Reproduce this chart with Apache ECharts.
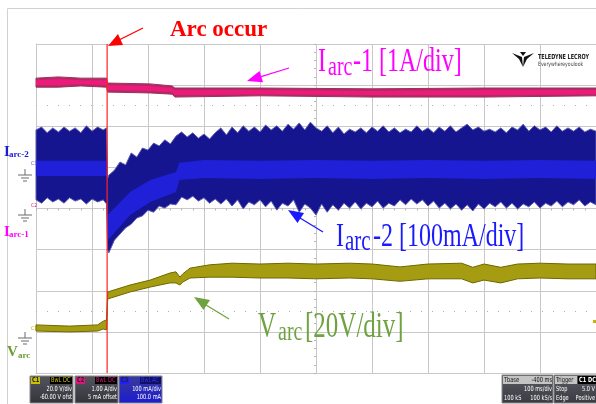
<!DOCTYPE html>
<html lang="en">
<head>
<meta charset="utf-8">
<title>Arc occur</title>
<script src="https://cdn.jsdelivr.net/npm/echarts@6/dist/echarts.min.js"></script>
<style>
  html, body { margin: 0; padding: 0; background: #fff; }
  #main { width: 596px; height: 404px; }
</style>
</head>
<body>
<div id="main"></div>
<script>
// x: time in ms (100 ms/div), y: screen divisions (0 = bottom of graticule, 8 = top)
var arcT = 127;

// Iarc-2 (blue, 100 mA/div) outer envelope
var blueT = [0,10,20,30,40,50,60,70,80,90,
  100,110,120,126,128,130,140,150,160,170,
  180,190,200,210,220,230,240,250,260,270,
  280,290,300,310,320,330,340,350,360,370,
  380,390,400,410,420,430,440,450,460,470,
  480,490,500,510,520,530,540,550,560,570,
  580,590,600,610,620,630,640,650,660,670,
  680,690,700,710,720,730,740,750,760,770,
  780,790,800,810,820,830,840,850,860,870,
  880,890,900,910,920,930,940,950,960,970,
  980,990,1000];
var blueTop = [5.91,5.98,5.84,5.96,5.86,5.98,5.88,5.96,5.84,6.01,
  5.88,5.98,5.91,5.96,4.74,4.81,4.93,5.13,5.06,5.35,
  5.25,5.47,5.42,5.59,5.52,5.67,5.57,5.76,5.86,5.74,
  5.84,5.71,5.81,5.69,5.84,5.96,5.79,5.98,5.84,6.01,
  5.88,5.98,5.86,6.03,5.91,6.01,5.88,6.05,5.93,6.08,
  5.91,6.10,5.96,5.88,6.01,5.84,5.98,5.81,5.93,5.86,
  5.96,5.84,5.98,5.88,6.01,5.86,5.96,5.84,5.93,5.86,
  6.01,5.88,5.96,5.84,5.98,5.88,6.01,5.86,5.96,6.05,
  5.91,5.98,5.88,5.93,5.86,5.96,5.84,5.98,5.91,6.05,
  5.88,6.01,5.91,5.98,5.86,6.01,5.88,5.96,5.88,5.98,
  5.86,5.93,5.88];
var blueBot = [4.21,4.13,4.26,4.16,4.23,4.13,4.26,4.18,4.23,4.11,
  4.23,4.16,4.21,4.11,2.99,2.92,3.23,3.38,3.53,3.62,
  3.77,3.82,3.96,3.91,4.06,4.01,4.11,4.09,4.28,4.21,
  4.30,4.18,4.26,4.13,4.23,4.11,4.23,4.06,4.21,3.99,
  4.16,4.09,4.21,4.04,4.18,3.96,4.13,4.06,4.21,3.91,
  4.11,4.01,3.84,4.11,3.91,4.09,3.96,4.13,4.01,4.16,
  3.99,4.13,4.04,4.18,4.01,4.13,4.06,4.21,4.09,4.23,
  4.11,4.21,4.06,4.18,4.01,4.13,3.99,4.11,3.96,4.09,
  3.94,4.11,3.99,4.13,4.04,4.16,4.01,4.13,3.99,4.11,
  4.04,4.16,4.01,4.13,4.06,4.18,4.04,4.16,4.09,4.21,
  4.06,4.16,4.09];

// Iarc-2 bright core
var coreT   = [0,126,128,168,204,250,256,300,400,500,600,700,800,900,1000];
var coreTop = [5.16,5.16,3.84,4.40,4.69,4.89,5.11,5.18,5.16,5.18,5.16,5.18,5.16,5.18,5.16];
var coreBot = [4.79,4.79,3.23,3.84,4.16,4.40,4.69,4.74,4.72,4.74,4.72,4.74,4.72,4.74,4.72];

// Iarc-1 (magenta, 1 A/div)
var pinkT     = [0,40,80,126,128,204,243,248,400,600,800,1000];
var pinkTop   = [7.17,7.20,7.17,7.17,7.05,7.03,6.98,6.93,6.93,6.91,6.93,6.93];
var pinkBot   = [6.95,6.95,6.98,6.95,6.83,6.81,6.78,6.71,6.74,6.71,6.71,6.74];
var pinkInTop = [7.12,7.15,7.12,7.12,7.00,6.98,6.93,6.88,6.88,6.86,6.88,6.88];
var pinkInBot = [7.00,7.00,7.03,7.00,6.88,6.86,6.83,6.76,6.78,6.76,6.76,6.78];

// Varc (olive, 20 V/div)
var oliveT   = [0,60,110,120,126,128,168,204,239,250,257,262,275,310,350,400,450,500,560,600,650,700,760,780,800,830,860,900,950,1000];
var oliveTop = [1.17,1.14,1.17,1.26,1.29,1.97,2.14,2.26,2.43,2.46,2.33,2.41,2.55,2.63,2.67,2.65,2.67,2.65,2.67,2.65,2.58,2.65,2.67,2.57,2.65,2.57,2.65,2.67,2.65,2.65];
var oliveBot = [1.02,1.00,1.02,1.07,1.05,1.80,1.97,2.09,2.19,2.19,2.14,2.21,2.31,2.33,2.33,2.31,2.31,2.29,2.31,2.29,2.23,2.29,2.29,2.19,2.26,2.19,2.29,2.31,2.29,2.29];

var minorDotRows = [1.5, 6.5];

var serif = '"Liberation Serif", "Times New Roman", serif';
var narrow = '"Liberation Sans Narrow", "DejaVu Sans Condensed", "Liberation Sans", sans-serif';

// band drawn as a polygon through the axis scales
function band(t, hi, lo, fill, edge, z) {
    return {
        type: 'custom',
        silent: true,
        z: z,
        data: [[0, 0]],
        renderItem: function (params, api) {
            var pts = [];
            for (var i = 0; i < t.length; i++) pts.push(api.coord([t[i], hi[i]]));
            for (var j = t.length - 1; j >= 0; j--) pts.push(api.coord([t[j], lo[j]]));
            return {
                type: 'polygon',
                shape: { points: pts },
                style: { fill: fill, stroke: edge || null, lineWidth: edge ? 1 : 0 }
            };
        }
    };
}

function txt(x, y, s, font, fill, align, sy, sx) {
    return {
        type: 'text', x: x, y: y, z: 100, silent: true, scaleY: sy || 1, scaleX: sx || 1,
        style: { text: s, font: font, fill: fill,
                 textAlign: align || 'left', textVerticalAlign: 'middle',
                 align: align || 'left', verticalAlign: 'middle' }
    };
}
function small(x, y, s, fill, align, bold) {
    return txt(x, y, s, (bold ? 'bold ' : '') + '7px ' + narrow, fill, align, 1, 0.8);
}
function seg(x1, y1, x2, y2, color, w) {
    return { type: 'line', z: 100, silent: true, shape: { x1: x1, y1: y1, x2: x2, y2: y2 },
             style: { stroke: color, lineWidth: w || 1 } };
}
function tri(pts, color) {
    return { type: 'polygon', z: 100, silent: true, shape: { points: pts }, style: { fill: color } };
}
function rect(x, y, w, h, fill, stroke) {
    return { type: 'rect', z: 90, silent: true, shape: { x: x, y: y, width: w, height: h },
             style: { fill: fill, stroke: stroke || null, lineWidth: stroke ? 1 : 0 } };
}
function ground(x, y) {
    var c = '#6a6a6a';
    return [seg(x, y, x, y + 6, c), seg(x - 7, y + 6, x + 7, y + 6, c),
            seg(x - 4, y + 9, x + 4, y + 9, c), seg(x - 2, y + 12, x + 2, y + 12, c)];
}
function grad(a, b) {
    return new echarts.graphic.LinearGradient(0, 0, 0, 1, [{ offset: 0, color: a }, { offset: 1, color: b }]);
}

var els = [];
// outer frame of the figure
els.push({ type: 'rect', z: 1, silent: true, shape: { x: 7.5, y: 8.5, width: 640, height: 440 },
           style: { fill: null, stroke: '#d2d2d2', lineWidth: 1 } });

// "Arc occur" with its arrow
els.push(txt(170, 30, 'Arc occur', 'bold 23px ' + serif, '#ff0000'));
els.push(seg(143, 28, 119, 40, '#ff0000', 1.3));
els.push(tri([[108, 46], [123, 45], [118, 34]], '#ff0000'));

// Iarc-1 label and arrow
els.push(txt(318, 62.5, 'I', '24px ' + serif, '#ff00ff', 'left', 1.4));
els.push(txt(328, 67.5, 'arc', '20px ' + serif, '#ff00ff', 'left', 1.4));
els.push(txt(353, 62.5, '-1 [1A/div]', '24px ' + serif, '#ff00ff', 'left', 1.4));
els.push(seg(289, 68, 261, 76.6, '#ff00ff', 1.3));
els.push(tri([[247, 81], [263, 82.3], [259.5, 70.9]], '#ff00ff'));

// Iarc-2 label and arrow
els.push(txt(336, 237, 'I', '24px ' + serif, '#1a1aff', 'left', 1.4));
els.push(txt(345, 242, 'arc', '21px ' + serif, '#1a1aff', 'left', 1.4));
els.push(txt(373, 237, '-2 [100mA/div]', '24px ' + serif, '#1a1aff', 'left', 1.4));
els.push(seg(323, 232, 300, 218, '#1a1aff', 1.3));
els.push(tri([[288, 210], [304, 213], [297.5, 223.1]], '#1a1aff'));

// Varc label and arrow
els.push(txt(258, 327.5, 'V', '25px ' + serif, '#6fa341', 'left', 1.4));
els.push(txt(278, 332.5, 'arc', '20px ' + serif, '#6fa341', 'left', 1.4));
els.push(txt(305, 327.5, '[20V/div]', '25px ' + serif, '#6fa341', 'left', 1.4));
els.push(seg(229, 319, 206, 305, '#6fa341', 1.3));
els.push(tri([[194, 297], [210, 300], [203.5, 310]], '#6fa341'));

// left channel names
els.push(txt(4, 152, 'I', 'bold 15px ' + serif, '#1a1ad8'));
els.push(txt(9, 155, 'arc-2', 'bold 9px ' + serif, '#1a1ad8'));
els.push(txt(4, 232, 'I', 'bold 15px ' + serif, '#ff00ff'));
els.push(txt(9, 235, 'arc-1', 'bold 9px ' + serif, '#ff00ff'));
els.push(txt(7, 352, 'V', 'bold 15px ' + serif, '#6a9e34'));
els.push(txt(18, 356, 'arc', 'bold 9px ' + serif, '#6a9e34'));

// ground symbols and channel markers
els = els.concat(ground(25, 169), ground(25, 209), ground(25, 332));
els.push(txt(31, 164, 'C3', '5px ' + narrow, '#4a4ac0'));
els.push(txt(31, 206, 'C2', '5px ' + narrow, '#e0157a'));
els.push(txt(31, 329, 'C1', '5px ' + narrow, '#b0a800'));
els.push(rect(593, 320, 3, 3, '#c0b800'));

// Teledyne LeCroy logo
els.push(tri([[512, 53], [522, 57], [523, 67], [519, 59]], '#111'));
els.push(tri([[534, 53], [524, 57], [523, 67], [527, 59]], '#111'));
els.push(tri([[520, 52], [526, 52], [523, 56]], '#111'));
els.push(txt(538, 57, 'TELEDYNE LECROY', 'bold 7px ' + narrow, '#222', 'left', 1, 0.78));
els.push(txt(538, 64, 'Everywhereyoulook', '6px ' + narrow, '#444', 'left', 1, 0.85));

// channel info panels
// C1
els.push(rect(30, 376, 43, 27, grad('#55555e', '#33333a'), '#888'));
els.push(rect(31, 377, 9, 7, '#c8c000'));
els.push(small(32, 380.5, 'C1', '#222', 'left', true));
els.push(rect(50, 377, 12, 7, '#000'));
els.push(small(51, 380.5, 'BwL', '#c8c000'));
els.push(rect(62, 377, 10, 7, '#000'));
els.push(small(63, 380.5, 'DC', '#c8c000'));
els.push(small(72, 389, '20.0 V/div', '#fff', 'right'));
els.push(small(72, 397.5, '-60.00 V ofst', '#fff', 'right'));
// C2
els.push(rect(75, 376, 43, 27, grad('#55555e', '#33333a'), '#888'));
els.push(rect(76, 377, 9, 7, '#e0157a'));
els.push(small(77, 380.5, 'C2', '#222', 'left', true));
els.push(rect(95, 377, 12, 7, '#000'));
els.push(small(96, 380.5, 'BwL', '#e0157a'));
els.push(rect(107, 377, 10, 7, '#000'));
els.push(small(108, 380.5, 'DC', '#e0157a'));
els.push(small(117, 389, '1.00 A/div', '#fff', 'right'));
els.push(small(117, 397.5, '5 mA offset', '#fff', 'right'));
// C3
els.push(rect(119, 376, 43, 27, grad('#3a3a9a', '#1c1cd0'), '#888'));
els.push(rect(120, 377, 9, 7, '#2020ff'));
els.push(small(121, 380.5, 'C3', '#222', 'left', true));
els.push(rect(140, 377, 11, 7, '#101060'));
els.push(small(141, 380.5, 'BwL', '#3030ff'));
els.push(rect(151, 377, 10, 7, '#101060'));
els.push(small(152, 380.5, 'AC', '#3030ff'));
els.push(small(161, 389, '100 mA/div', '#fff', 'right'));
els.push(small(161, 397.5, '100.0 mA', '#fff', 'right'));
// Timebase
els.push(rect(502, 375, 51, 28, grad('#5a5a62', '#3a3a42'), '#888'));
els.push(rect(503, 376, 49, 8, '#c4c4c4'));
els.push(small(504, 380, 'Tbase', '#111'));
els.push(small(552, 380, '-400 ms', '#111', 'right'));
els.push(small(552, 389, '100 ms/div', '#fff', 'right'));
els.push(small(504, 398, '100 kS', '#fff'));
els.push(small(552, 398, '100 kS/s', '#fff', 'right'));
// Trigger
els.push(rect(554, 375, 43, 28, grad('#5a5a62', '#3a3a42'), '#888'));
els.push(rect(555, 376, 22, 8, '#c4c4c4'));
els.push(small(556, 380, 'Trigger', '#111'));
els.push(rect(578, 376, 9, 8, '#000'));
els.push(small(579, 380, 'C1', '#fff', 'left', true));
els.push(rect(587, 376, 9, 8, '#000'));
els.push(small(588, 380, 'DC', '#fff', 'left', true));
els.push(small(556, 389, 'Stop', '#fff'));
els.push(small(595, 389, '5.0 V', '#fff', 'right'));
els.push(small(556, 398, 'Edge', '#fff'));
els.push(small(595, 398, 'Positive', '#fff', 'right'));

var gridColor = '#c8c8c8';
var chart = echarts.init(document.getElementById('main'));
chart.setOption({
    animation: false,
    backgroundColor: '#ffffff',
    grid: { left: 36, top: 44, width: 560, height: 329 },
    xAxis: [{
        type: 'value', min: 0, max: 1000, interval: 100,
        axisLabel: { show: false }, axisTick: { show: false },
        axisLine: { show: true, onZero: false, lineStyle: { color: gridColor } },
        splitLine: { show: true, lineStyle: { color: gridColor, width: 1 } }
    }, {
        type: 'value', min: 0, max: 1000, interval: 100, position: 'bottom', offset: -164.5,
        axisLabel: { show: false }, axisLine: { show: false, onZero: false },
        axisTick: { show: true, length: 2, lineStyle: { color: '#b4b4b4' } },
        minorTick: { show: true, splitNumber: 5, length: 2, lineStyle: { color: '#b4b4b4' } },
        splitLine: { show: false }
    }],
    yAxis: [{
        type: 'value', min: 0, max: 8, interval: 1,
        axisLabel: { show: false }, axisTick: { show: false },
        axisLine: { show: true, onZero: false, lineStyle: { color: gridColor } },
        splitLine: { show: true, lineStyle: { color: gridColor, width: 1 } }
    }, {
        type: 'value', min: 0, max: 8, interval: 1, position: 'left', offset: -280,
        axisLabel: { show: false }, axisLine: { show: false, onZero: false },
        axisTick: { show: true, length: 2, lineStyle: { color: '#b4b4b4' } },
        minorTick: { show: true, splitNumber: 5, length: 2, lineStyle: { color: '#b4b4b4' } },
        splitLine: { show: false }
    }],
    series: [
        band(pinkT, pinkTop, pinkBot, '#b42a62', '#9a3060', 10),
        band(pinkT, pinkInTop, pinkInBot, '#ec1a7a', null, 11),
        band(blueT, blueTop, blueBot, '#15158f', '#5a5ab4', 12),
        band(coreT, coreTop, coreBot, '#2020d8', null, 13),
        band(oliveT, oliveTop, oliveBot, '#a69c12', '#6e6800', 14),
        {
            type: 'line', z: 20, silent: true, symbol: 'none',
            data: [[arcT, 0], [arcT, 8]],
            lineStyle: { color: '#ff2020', width: 1.2 },
            markLine: {
                silent: true, symbol: 'none', label: { show: false },
                lineStyle: { color: '#b0b0b0', width: 1, type: [1, 10] },
                data: minorDotRows.map(function (v) { return { yAxis: v }; })
            }
        }
    ],
    graphic: { elements: els }
});
</script>
</body>
</html>
